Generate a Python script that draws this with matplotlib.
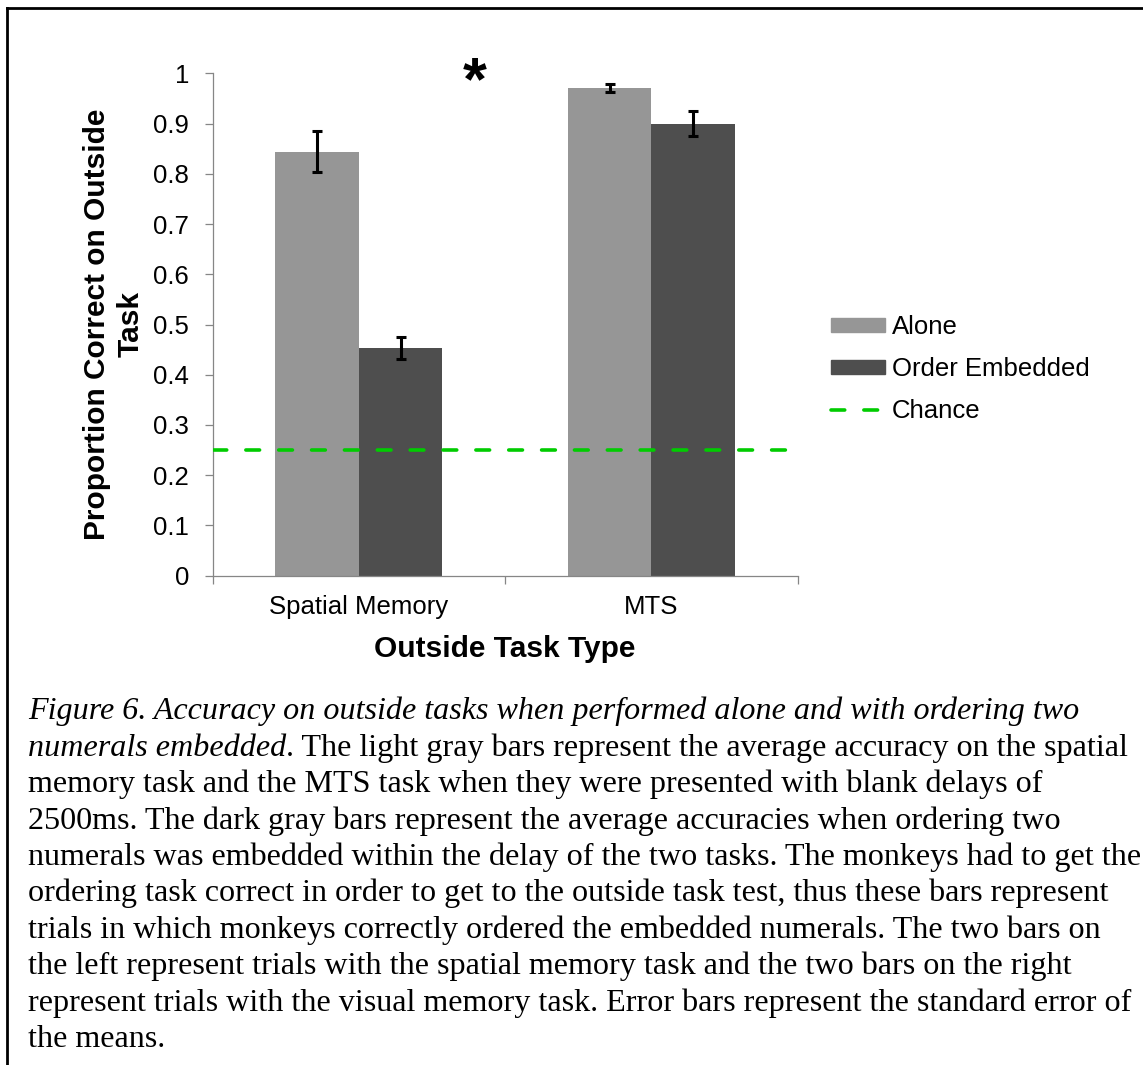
import matplotlib
matplotlib.use("Agg")
import matplotlib.pyplot as plt
from matplotlib.lines import Line2D
from matplotlib.patches import Patch
import numpy as np

# data
categories = ["Spatial Memory", "MTS"]
alone = [0.844, 0.971]
alone_err = [0.041, 0.008]
embedded = [0.453, 0.900]
embedded_err = [0.022, 0.025]
chance = 0.25
yticks = [0, 0.1, 0.2, 0.3, 0.4, 0.5, 0.6, 0.7, 0.8, 0.9, 1]

cap_first = "Figure 6. Accuracy on outside tasks when performed alone and with ordering two"
cap_second_it = "numerals embedded"
cap_second_rest = ". The light gray bars represent the average accuracy on the spatial"
cap_rest = [
    "memory task and the MTS task when they were presented with blank delays of",
    "2500ms. The dark gray bars represent the average accuracies when ordering two",
    "numerals was embedded within the delay of the two tasks. The monkeys had to get the",
    "ordering task correct in order to get to the outside task test, thus these bars represent",
    "trials in which monkeys correctly ordered the embedded numerals. The two bars on",
    "the left represent trials with the spatial memory task and the two bars on the right",
    "represent trials with the visual memory task. Error bars represent the standard error of",
    "the means.",
]

W, H = 1143, 1065
LIGHT = "#969696"
DARK = "#4e4e4e"
GREEN = "#00cc00"
AXC = "#868686"
FS = 18.5      # regular chart text
FSB = 21.5     # bold axis titles
DASH = (0, (3.8, 5.3))

plt.rcParams["font.family"] = ["Liberation Sans", "DejaVu Sans"]

fig = plt.figure(figsize=(W / 100, H / 100), dpi=100)

def fx(x):
    return x / W

def fy(y):
    return 1 - y / H

# axes placed in pixel terms
l, r, t, b = 212.7, 797.5, 73.3, 575.7
ax = fig.add_axes([fx(l), fy(b), fx(r - l), (b - t) / H])

x = np.arange(len(categories))
w = 2 / 7
ekw = dict(elinewidth=2.2, capthick=2.2)
ax.bar(x - w / 2, alone, w, color=LIGHT, yerr=alone_err, capsize=3.5, ecolor="black",
       error_kw=ekw, label="Alone", zorder=2)
ax.bar(x + w / 2, embedded, w, color=DARK, yerr=embedded_err, capsize=3.5, ecolor="black",
       error_kw=ekw, label="Order Embedded", zorder=2)
ax.axhline(chance, color=GREEN, lw=2.6, linestyle=DASH, dash_capstyle="round",
           zorder=3, label="Chance")

ax.set_xlim(-0.5, len(categories) - 0.5)
ax.set_ylim(0, 1)
ax.set_yticks(yticks)
ax.set_yticklabels([f"{v:g}" for v in yticks])
ax.set_xticks(np.arange(len(categories) + 1) - 0.5)
ax.set_xticklabels([])
ax.set_xticks(x, minor=True)
ax.set_xticklabels(categories, minor=True)
ax.tick_params(axis="x", which="minor", length=0, pad=14, labelsize=FS)
ax.tick_params(axis="x", which="major", length=6, width=0.9, color=AXC, direction="out")
ax.tick_params(axis="y", length=6, width=0.9, color=AXC, pad=11, labelsize=FS)

for s in ["top", "right"]:
    ax.spines[s].set_visible(False)
for s in ["left", "bottom"]:
    ax.spines[s].set_color(AXC)
    ax.spines[s].set_linewidth(0.9)

ax.set_xlabel("Outside Task Type", fontsize=FSB, fontweight="bold")
ax.xaxis.set_label_coords(0.5, -0.118)

fig.text(fx(114), fy(324), "Proportion Correct on Outside\nTask", rotation=90,
         ha="center", va="center", multialignment="center", fontsize=FSB,
         fontweight="bold", linespacing=1.25)

fig.text(fx(475), fy(99), "*", ha="center", va="baseline", fontsize=44, fontweight="bold")

handles = [Patch(color=LIGHT), Patch(color=DARK),
           Line2D([], [], color=GREEN, lw=2.6, linestyle=DASH, dash_capstyle="round")]
fig.legend(handles, ["Alone", "Order Embedded", "Chance"], loc="upper left",
           bbox_to_anchor=(fx(831), fy(315)), frameon=False, fontsize=FS,
           handlelength=2.1, handleheight=0.5, handletextpad=0.28, labelspacing=0.7,
           borderpad=0, borderaxespad=0)

# caption
cap_x = 28
cap_y0 = 711.7
step = 36.4
cfont = dict(family=["Liberation Serif", "DejaVu Serif"], fontsize=23.1)
fig.text(fx(cap_x), fy(cap_y0), cap_first, style="italic", va="center", ha="left", **cfont)
it = fig.text(fx(cap_x), fy(cap_y0 + step), cap_second_it, style="italic", va="center",
              ha="left", **cfont)
renderer = fig.canvas.get_renderer()
bb = it.get_window_extent(renderer)
fig.text(bb.x1 / W, fy(cap_y0 + step), cap_second_rest, va="center", ha="left", **cfont)
for i, line in enumerate(cap_rest):
    fig.text(fx(cap_x), fy(cap_y0 + step * (i + 2)), line, va="center", ha="left", **cfont)

# frame around figure
fig.add_artist(Line2D([fx(7), 1], [fy(8), fy(8)], color="black", lw=2))
fig.add_artist(Line2D([fx(7), fx(7)], [0, fy(8)], color="black", lw=2))

fig.savefig("out.png", dpi=100)
